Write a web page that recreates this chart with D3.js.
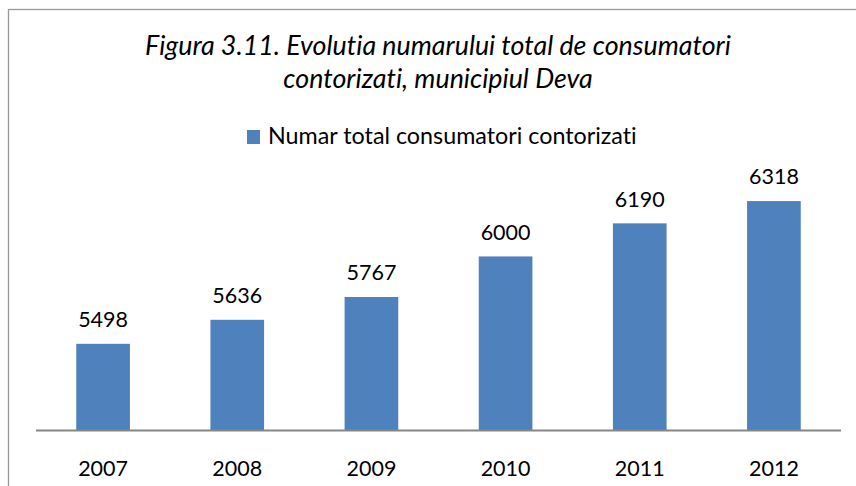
<!DOCTYPE html>
<html>
<head>
<meta charset="utf-8">
<script src="https://cdn.jsdelivr.net/npm/d3@7/dist/d3.min.js"></script>
<style>
  body { margin: 0; background: #fff; }
  text { font-family: Lato, "Open Sans", sans-serif; fill: #000; font-variant-ligatures: none; }
</style>
</head>
<body>
<div id="chart"></div>
<script>
var width = 856,
    height = 486;

var years = ["2007", "2008", "2009", "2010", "2011", "2012"];
var consumers = [5498, 5636, 5767, 6000, 6190, 6318];
var titleLines = ["Figura 3.11. Evolutia numarului total de consumatori",
    "contorizati, municipiul Deva"];
var seriesName = "Numar total consumatori contorizati";

var barColor = "#4f81bd";

var svg = d3.select("#chart")
    .append("svg")
    .attr("width", width)
    .attr("height", height);

// outer frame (right and bottom edges fall outside the picture)
svg.append("rect")
    .attr("x", 8.5)
    .attr("y", 9.5)
    .attr("width", 860)
    .attr("height", 500)
    .style("fill", "none")
    .style("stroke", "#999")
    .style("stroke-width", 1.3);

var x = d3.scaleBand()
    .domain(years)
    .range([36, 841])
    .paddingInner(0.6)
    .paddingOuter(0.3);

var y = d3.scaleLinear()
    .domain([5000, 6600])
    .range([430.5, 152]);

// title
svg.append("text")
    .attr("text-anchor", "middle")
    .style("font-style", "italic")
    .style("font-size", "26.8px")
    .selectAll("tspan")
    .data(titleLines)
    .enter()
    .append("tspan")
    .attr("x", 438)
    .attr("y", (d, i) => 54.5 + i * 33.3)
    .text(d => d);

// legend
svg.append("rect")
    .attr("x", 247)
    .attr("y", 130)
    .attr("width", 13)
    .attr("height", 14)
    .style("fill", barColor);

svg.append("text")
    .attr("x", 268)
    .attr("y", 144)
    .style("font-size", "23.3px")
    .text(seriesName);

// bars
svg.selectAll("rect.bar")
    .data(consumers)
    .enter()
    .append("rect")
    .attr("class", "bar")
    .attr("x", (d, i) => x(years[i]))
    .attr("y", d => y(d))
    .attr("width", x.bandwidth())
    .attr("height", d => y(5000) - y(d))
    .style("fill", barColor);

// value labels
svg.selectAll("text.val")
    .data(consumers)
    .enter()
    .append("text")
    .attr("class", "val")
    .attr("x", (d, i) => x(years[i]) + x.bandwidth() / 2)
    .attr("y", d => y(d) - 16.7)
    .attr("text-anchor", "middle")
    .style("font-size", "21.5px")
    .text(d => d);

// x axis
var xAxis = d3.axisBottom(x).tickSize(0).tickPadding(30);

var gx = svg.append("g")
    .attr("transform", `translate(0, ${y(5000)})`)
    .call(xAxis);

gx.select(".domain")
    .attr("d", "M36,0H841")
    .style("stroke", "#868686")
    .style("stroke-width", 2);

gx.selectAll("text")
    .style("font-family", "Lato, 'Open Sans', sans-serif")
    .style("font-size", "21.5px")
    .style("fill", "#000");
</script>
</body>
</html>
